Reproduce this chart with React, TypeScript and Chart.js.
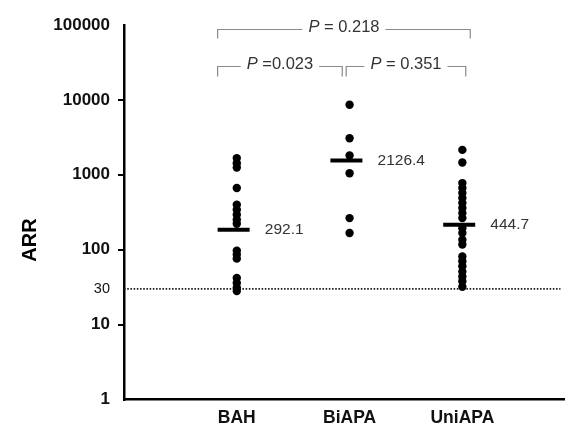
import React, { useEffect, useRef } from 'react';
import { Chart, registerables } from 'chart.js';

Chart.register(...registerables);

// ---- data ----
const categories = ['BAH', 'BiAPA', 'UniAPA'];
const bahValues = [1670, 1430, 1250, 665, 398, 341, 293, 251, 222, 97, 86, 76, 42, 36, 31, 28];
const biapaValues = [8600, 3080, 1810, 1050, 264, 167];
const uniapaValues = [2150, 1460, 775, 665, 570, 490, 420, 360, 308, 264, 194, 167, 136, 117, 81, 70, 60, 51, 44, 38, 32];
const centerBarValues = [185, 1550, 215];
const centerBarLabels = ['292.1', '2126.4', '444.7'];
const yTickValues = [1, 10, 30, 100, 1000, 10000, 100000];
const thresholdValue = 30;
const pLabels = ['= 0.218', '=0.023', '= 0.351'];

const FONT = "'Liberation Sans', Arial, Helvetica, sans-serif";

const annotationPlugin = {
  id: 'annotations',
  afterDraw(chart: any) {
    const { ctx, scales } = chart;
    const xs = scales.x;
    const ys = scales.y;
    ctx.save();

    // Y axis title
    ctx.save();
    ctx.translate(30, 240);
    ctx.rotate(-Math.PI / 2);
    ctx.font = `bold 20px ${FONT}`;
    ctx.fillStyle = '#000';
    ctx.textAlign = 'center';
    ctx.textBaseline = 'middle';
    ctx.fillText('ARR', 0, 0);
    ctx.restore();

    // value labels beside centre bars
    ctx.font = `15.5px ${FONT}`;
    ctx.fillStyle = '#333';
    ctx.textAlign = 'left';
    ctx.textBaseline = 'middle';
    centerBarValues.forEach((v, i) => {
      const x = xs.getPixelForValue(i + 1) + 28;
      const y = ys.getPixelForValue(v);
      ctx.fillText(centerBarLabels[i], x, y);
    });

    // P value brackets
    const brackets = [
      { x1: 0.83, x2: 3.07, yv: 88000, drop: 9, label: pLabels[0] },
      { x1: 0.83, x2: 1.935, yv: 28000, drop: 10, label: pLabels[1] },
      { x1: 1.97, x2: 3.03, yv: 28000, drop: 10, label: pLabels[2] },
    ];
    ctx.strokeStyle = '#8a8a8a';
    ctx.lineWidth = 1.2;
    brackets.forEach((b) => {
      const px1 = xs.getPixelForValue(b.x1);
      const px2 = xs.getPixelForValue(b.x2);
      const py = Math.round(ys.getPixelForValue(b.yv)) + 0.5;
      const mid = (px1 + px2) / 2;
      ctx.font = `italic 16.5px ${FONT}`;
      const wP = ctx.measureText('P').width;
      ctx.font = `16.5px ${FONT}`;
      const wRest = ctx.measureText(' ' + b.label).width;
      const tw = wP + wRest;
      const tx = mid - tw / 2;
      const gap = 6;
      ctx.beginPath();
      ctx.moveTo(px1, py + b.drop);
      ctx.lineTo(px1, py);
      ctx.lineTo(tx - gap, py);
      ctx.moveTo(tx + tw + gap, py);
      ctx.lineTo(px2, py);
      ctx.lineTo(px2, py + b.drop);
      ctx.stroke();
      ctx.fillStyle = '#333';
      ctx.textAlign = 'left';
      ctx.textBaseline = 'middle';
      ctx.font = `italic 16.5px ${FONT}`;
      ctx.fillText('P', tx, py - 2);
      ctx.font = `16.5px ${FONT}`;
      ctx.fillText(' ' + b.label, tx + wP, py - 2);
    });
    ctx.restore();
  },
};

export default function App() {
  const canvasRef = useRef<HTMLCanvasElement | null>(null);

  useEffect(() => {
    if (!canvasRef.current) return;
    Chart.defaults.font.family = FONT;
    const groups = [bahValues, biapaValues, uniapaValues];
    const dots: { x: number; y: number }[] = [];
    groups.forEach((vals, i) => vals.forEach((v) => dots.push({ x: i + 1, y: v })));

    const chart = new Chart(canvasRef.current, {
      type: 'scatter',
      data: {
        datasets: [
          {
            label: 'values',
            data: dots,
            pointRadius: 4.2,
            pointBackgroundColor: '#000',
            pointBorderWidth: 0,
            showLine: false,
          },
          {
            label: 'centre',
            data: centerBarValues.map((v, i) => ({ x: i + 1 - 0.028, y: v })),
            pointStyle: 'line',
            pointRadius: 16,
            pointBorderWidth: 4,
            pointBorderColor: '#000',
            borderColor: '#000',
            showLine: false,
          },
          {
            label: 'threshold',
            data: [
              { x: 0, y: thresholdValue },
              { x: 3.87, y: thresholdValue },
            ],
            showLine: true,
            borderColor: '#222',
            borderWidth: 1.6,
            borderDash: [1.6, 1.6],
            pointRadius: 0,
          },
        ],
      },
      options: {
        animation: false,
        responsive: false,
        devicePixelRatio: 1,
        layout: { autoPadding: false, padding: { top: 25, left: 0, right: 0, bottom: 0 } },
        plugins: {
          legend: { display: false },
          tooltip: { enabled: false },
        },
        scales: {
          x: {
            type: 'linear',
            min: 0,
            max: 3.91,
            afterBuildTicks: (scale: any) => {
              scale.ticks = categories.map((_, i) => ({ value: i + 1 }));
            },
            afterFit: (scale: any) => {
              scale.height = 27.5;
              scale.paddingLeft = 0;
              scale.paddingRight = 0;
            },
            grid: { display: false, drawTicks: false },
            border: { display: true, color: '#000', width: 2.5 },
            ticks: {
              autoSkip: false,
              maxRotation: 0,
              padding: 10,
              color: '#111',
              font: { size: 17.5, weight: 'bold', lineHeight: 1 },
              callback: (v: any) => categories[Math.round(Number(v)) - 1] ?? '',
            },
          },
          y: {
            type: 'logarithmic',
            min: 1,
            max: 100000,
            afterBuildTicks: (scale: any) => {
              scale.ticks = yTickValues.map((v) => ({ value: v }));
            },
            afterFit: (scale: any) => {
              scale.width = 124;
            },
            grid: {
              display: true,
              drawOnChartArea: false,
              drawTicks: true,
              tickLength: 6,
              lineWidth: 2,
              color: (c: any) => {
                const v = c.tick ? c.tick.value : null;
                return v === 1 || v === 100000 || v === 30 ? 'rgba(0,0,0,0)' : '#000';
              },
            },
            border: { display: true, color: '#000', width: 2.5 },
            ticks: {
              autoSkip: false,
              padding: 8,
              color: '#111',
              font: (c: any) =>
                c.tick && c.tick.value === 30
                  ? { size: 14.5, weight: 'normal' }
                  : { size: 17, weight: 'bold' },
              callback: (v: any) => String(v),
            },
          },
        },
      } as any,
      plugins: [annotationPlugin],
    });
    return () => chart.destroy();
  }, []);

  return (
    <div style={{ position: 'fixed', left: 0, top: 0, width: 565, height: 427, background: '#fff' }}>
      <canvas ref={canvasRef} width={565} height={427} style={{ display: 'block' }} />
    </div>
  );
}
